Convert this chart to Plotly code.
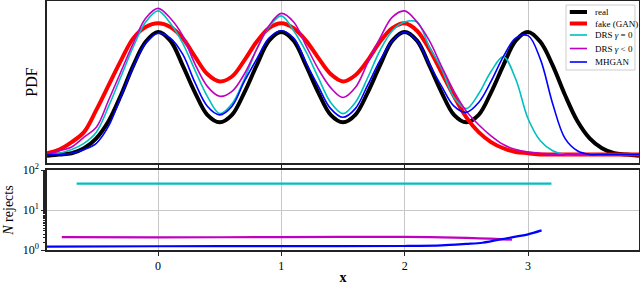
import plotly.graph_objects as go

x_grid = [-0.9, -0.8, -0.7, -0.6, -0.5, -0.4, -0.3, -0.2, -0.1, 0.0,
          0.1, 0.2, 0.3, 0.4, 0.5, 0.6, 0.7, 0.8, 0.9, 1.0,
          1.1, 1.2, 1.3, 1.4, 1.5, 1.6, 1.7, 1.8, 1.9, 2.0,
          2.1, 2.2, 2.3, 2.4, 2.5, 2.6, 2.7, 2.8, 2.9, 3.0,
          3.1, 3.2, 3.3, 3.4, 3.5, 3.6, 3.7, 3.8, 3.9]

pdf_real = [0.00, 0.01, 0.02, 0.06, 0.14, 0.28, 0.49, 0.73, 0.92, 1.00,
            0.93, 0.73, 0.51, 0.33, 0.27, 0.33, 0.51, 0.73, 0.93, 1.00,
            0.93, 0.73, 0.51, 0.33, 0.27, 0.33, 0.51, 0.73, 0.93, 1.00,
            0.93, 0.73, 0.51, 0.33, 0.27, 0.33, 0.51, 0.73, 0.93, 1.00,
            0.92, 0.73, 0.49, 0.28, 0.14, 0.06, 0.02, 0.01, 0.00]

pdf_fake = [0.02, 0.05, 0.11, 0.19, 0.37, 0.57, 0.77, 0.95, 1.04, 1.07,
            1.04, 0.95, 0.80, 0.66, 0.60, 0.64, 0.77, 0.92, 1.03, 1.07,
            1.03, 0.93, 0.79, 0.66, 0.60, 0.65, 0.77, 0.92, 1.03, 1.07,
            1.01, 0.86, 0.67, 0.48, 0.31, 0.19, 0.11, 0.06, 0.03, 0.02,
            0.01, 0.01, 0.01, 0.01, 0.01, 0.01, 0.01, 0.01, 0.01]

pdf_drs0 = [0.01, 0.02, 0.05, 0.10, 0.19, 0.40, 0.64, 0.88, 1.08, 1.17,
            1.07, 0.91, 0.69, 0.48, 0.34, 0.42, 0.62, 0.86, 1.04, 1.13,
            1.01, 0.84, 0.63, 0.43, 0.34, 0.43, 0.63, 0.85, 1.01, 1.08,
            1.08, 0.88, 0.70, 0.47, 0.38, 0.50, 0.68, 0.80, 0.62, 0.30,
            0.12, 0.04, 0.01, 0.01, 0.01, 0.01, 0.01, 0.01, 0.01]

pdf_drsneg = [0.01, 0.04, 0.07, 0.15, 0.23, 0.45, 0.68, 0.91, 1.11, 1.19,
              1.11, 0.97, 0.74, 0.56, 0.48, 0.52, 0.66, 0.86, 1.05, 1.15,
              1.08, 0.89, 0.70, 0.55, 0.47, 0.55, 0.75, 0.95, 1.12, 1.17,
              1.08, 0.93, 0.72, 0.52, 0.36, 0.25, 0.16, 0.09, 0.05, 0.03,
              0.02, 0.01, 0.01, 0.01, 0.01, 0.01, 0.01, 0.01, 0.01]

pdf_mhgan = [0.01, 0.01, 0.02, 0.05, 0.10, 0.24, 0.48, 0.72, 0.91, 0.99,
             0.95, 0.82, 0.59, 0.40, 0.33, 0.40, 0.60, 0.78, 0.95, 1.01,
             0.95, 0.75, 0.56, 0.38, 0.31, 0.38, 0.57, 0.77, 0.93, 1.00,
             0.93, 0.74, 0.56, 0.40, 0.35, 0.43, 0.60, 0.80, 0.95, 0.97,
             0.78, 0.42, 0.14, 0.04, 0.01, 0.01, 0.01, 0.01, 0.01]

rej_x_drs0 = [-0.66, 0.0, 1.0, 2.0, 3.0, 3.19]
rej_drs0 = [46, 46, 46, 46, 46, 46]
rej_x_drsneg = [-0.78, 0.0, 1.0, 2.0, 2.5, 2.87]
rej_drsneg = [2.10, 2.08, 2.10, 2.14, 2.02, 1.82]
rej_x_mhgan = [-0.9, 0.0, 1.0, 2.0, 2.3, 2.5, 2.63, 2.85, 3.0, 3.11]
rej_mhgan = [1.22, 1.24, 1.25, 1.26, 1.30, 1.42, 1.52, 2.03, 2.47, 3.1]

x_ticks = [0, 1, 2, 3]
y2_ticks = [1, 10, 100]
y2_ticktext = ["10<sup>0</sup>", "10<sup>1</sup>", "10<sup>2</sup>"]

names = ["real", "fake (GAN)", "DRS <i>γ</i> = 0", "DRS <i>γ</i> &lt; 0", "MHGAN"]
colors = ["#000000", "#ff0000", "#00bfbf", "#bf00bf", "#0000ff"]
widths = [4, 4, 1.6, 1.6, 1.6]
series = [pdf_real, pdf_fake, pdf_drs0, pdf_drsneg, pdf_mhgan]

FONT = "Liberation Serif"
fig = go.Figure()
for nm, c, w, s in zip(names, colors, widths, series):
    fig.add_trace(go.Scatter(x=x_grid, y=s, mode="lines", name=nm, showlegend=False,
                             line=dict(color=c, width=w, shape="spline", smoothing=1.0),
                             xaxis="x", yaxis="y"))

for xs, ys, c in [(rej_x_drs0, rej_drs0, colors[2]),
                  (rej_x_drsneg, rej_drsneg, colors[3]),
                  (rej_x_mhgan, rej_mhgan, colors[4])]:
    fig.add_trace(go.Scatter(x=xs, y=ys, mode="lines", showlegend=False,
                             line=dict(color=c, width=2.2, shape="spline", smoothing=0.8),
                             xaxis="x2", yaxis="y2"))

# legend box (paper coordinates)
leg_x0, leg_x1, leg_y0, leg_y1 = 0.8767, 0.9932, 0.7229, 0.9839
leg_line_x0, leg_line_x1, leg_text_x = 0.8801, 0.9122, 0.9223
leg_rows = [0.9558, 0.9096, 0.8635, 0.8092, 0.7550]
fig.add_shape(type="rect", xref="paper", yref="paper", x0=leg_x0, x1=leg_x1,
              y0=leg_y0, y1=leg_y1, line=dict(color="#cccccc", width=1),
              fillcolor="rgba(255,255,255,0.85)", layer="above")
for nm, c, w, yy in zip(names, colors, widths, leg_rows):
    fig.add_shape(type="line", xref="paper", yref="paper", x0=leg_line_x0 + 0.003,
                  x1=leg_line_x1, y0=yy, y1=yy, line=dict(color=c, width=w), layer="above")
    fig.add_annotation(xref="paper", yref="paper", x=leg_text_x, y=yy, text=nm,
                       showarrow=False, xanchor="left", yanchor="middle",
                       font=dict(size=9, family=FONT, color="black"))

axis_common = dict(showline=True, mirror=True, linecolor="#222222", linewidth=1.5,
                   zeroline=False, automargin=False)
fig.update_layout(
    width=640, height=285,
    margin=dict(l=47, r=1, t=1, b=35),
    plot_bgcolor="white", paper_bgcolor="white",
    font=dict(family=FONT, color="black"),
    showlegend=False,
    xaxis=dict(domain=[0, 1], range=[-0.9, 3.9], tickvals=x_ticks, showticklabels=False,
               ticks="outside", ticklen=4, tickcolor="#222222",
               showgrid=True, gridcolor="#c8c8c8", gridwidth=1, anchor="y", **axis_common),
    yaxis=dict(domain=[0.349, 1], range=[-0.06, 1.25], showticklabels=False, ticks="",
               showgrid=False, anchor="x",
               title=dict(text="PDF", font=dict(size=16, family=FONT), standoff=4),
               **axis_common),
    xaxis2=dict(domain=[0, 1], range=[-0.9, 3.9], tickvals=x_ticks, ticks="outside",
                ticklen=4, tickcolor="#222222", tickfont=dict(size=12, family=FONT),
                showgrid=True, gridcolor="#c8c8c8", gridwidth=1, anchor="y2",
                title=dict(text="<b>x</b>", font=dict(size=14, family=FONT), standoff=4),
                **axis_common),
    yaxis2=dict(domain=[0, 0.321], type="log", range=[0, 2], tickvals=y2_ticks,
                ticktext=y2_ticktext, ticks="outside", ticklen=4, tickcolor="#222222",
                tickfont=dict(size=12, family=FONT),
                minor=dict(ticks="outside", ticklen=2, tickcolor="#222222", showgrid=False),
                showgrid=True, gridcolor="#c8c8c8", gridwidth=1, anchor="x2",
                title=dict(text="<i>N</i> rejects", font=dict(size=14, family=FONT), standoff=6),
                **axis_common),
)

fig.write_html("out.html", config={"displayModeBar": False},
               post_script="document.body.style.margin='0';document.body.style.padding='0';")
